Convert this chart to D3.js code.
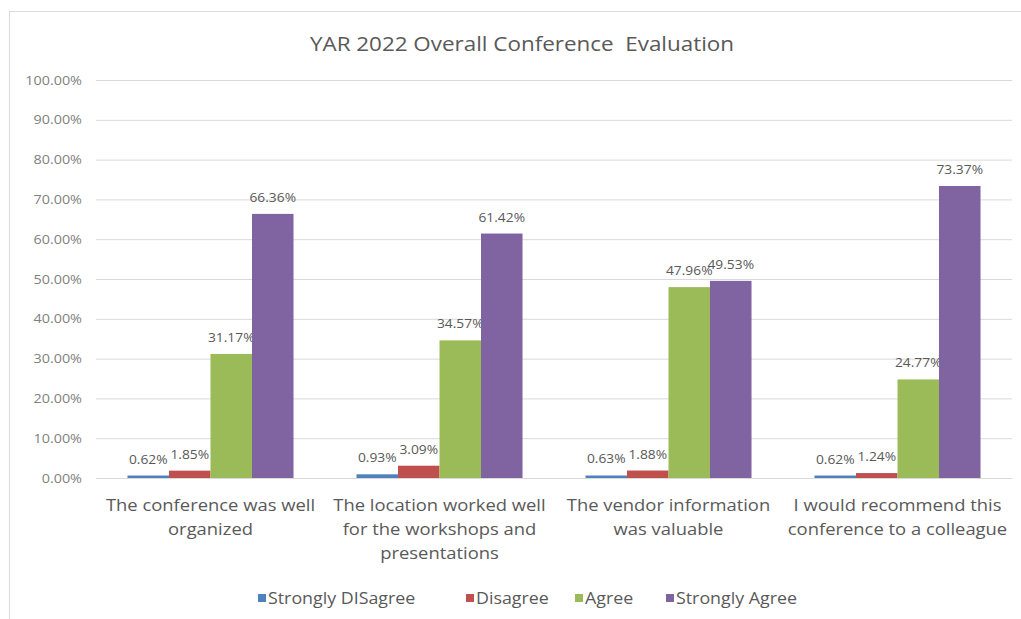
<!DOCTYPE html>
<html>
<head>
<meta charset="utf-8">
<title>YAR 2022 Overall Conference Evaluation</title>
<style>
  body { margin: 0; background: #fff; }
  text { font-family: "Open Sans", sans-serif; fill: #595959; }
</style>
</head>
<body>
<script src="https://cdnjs.cloudflare.com/ajax/libs/d3/7.8.5/d3.min.js"></script>
<script>
// categories (wrapped as in the original)
var categories = ["c1", "c2", "c3", "c4"];
var categoryLines = [
  ["The conference was well", "organized"],
  ["The location worked well", "for the workshops and", "presentations"],
  ["The vendor information", "was valuable"],
  ["I would recommend this", "conference to a colleague"]
];
var seriesNames = ["Strongly DISagree", "Disagree", "Agree", "Strongly Agree"];
var seriesColors = ["#4f81bd", "#c0504d", "#9bbb59", "#8064a2"];

var stronglyDisagree = [0.62, 0.93, 0.63, 0.62];
var disagree = [1.85, 3.09, 1.88, 1.24];
var agree = [31.17, 34.57, 47.96, 24.77];
var stronglyAgree = [66.36, 61.42, 49.53, 73.37];
var seriesValues = [stronglyDisagree, disagree, agree, stronglyAgree];

var yTicks = [0, 10, 20, 30, 40, 50, 60, 70, 80, 90, 100];

var W = 1021, H = 619;
var sx = 1.15; // the original's text is a little wider than Open Sans
var svg = d3.select("body").append("svg")
  .attr("width", W)
  .attr("height", H);

function at(x, y){ return "translate(" + x + "," + y + ") scale(" + sx + ",1)"; }

// chart border
svg.append("rect")
  .attr("x", 9.5).attr("y", 11.5)
  .attr("width", 1100).attr("height", 700)
  .attr("fill", "#fff")
  .attr("stroke", "#d9d9d9");

var plot = { left: 96, right: 1012, top: 80, bottom: 478 };

var x0 = d3.scaleBand().domain(categories)
  .range([plot.left, plot.right])
  .paddingInner(0.275).paddingOuter(0.1375);
var x1 = d3.scaleBand().domain(d3.range(seriesNames.length))
  .range([0, x0.bandwidth()]);
var y = d3.scaleLinear().domain([0, 100]).range([plot.bottom, plot.top]);

// gridlines + tick labels
var yAxis = d3.axisLeft(y).tickValues(yTicks)
  .tickSize(-(plot.right - plot.left))
  .tickPadding(14)
  .tickFormat(function(d){ return d.toFixed(2) + "%"; });
var ga = svg.append("g")
  .attr("transform", "translate(" + plot.left + ",0)")
  .call(yAxis);
ga.select(".domain").remove();
ga.selectAll(".tick line").attr("stroke", "#d9d9d9");
ga.selectAll(".tick text")
  .attr("x", -14 / sx)
  .attr("transform", "scale(" + sx + ",1)")
  .attr("font-size", 12.5)
  .attr("font-family", "'Open Sans', sans-serif")
  .style("fill", "#7f7f7f");

// bars
var groups = svg.selectAll("g.series").data(seriesValues).enter().append("g")
  .attr("class", "series")
  .attr("fill", function(d, i){ return seriesColors[i]; });

groups.each(function(vals, si){
  var g = d3.select(this);
  g.selectAll("rect").data(vals).enter().append("rect")
    .attr("x", function(d, ci){ return x0(categories[ci]) + x1(si); })
    .attr("y", function(d){ return y(d); })
    .attr("width", x1.bandwidth())
    .attr("height", function(d){ return y(0) - y(d); });
  g.selectAll("text").data(vals).enter().append("text")
    .attr("transform", function(d, ci){
      return at(x0(categories[ci]) + x1(si) + x1.bandwidth() / 2, y(d) - 12);
    })
    .attr("text-anchor", "middle")
    .attr("font-size", 12)
    .text(function(d){ return d.toFixed(2) + "%"; });
});

// category labels
var cl = svg.selectAll("text.cat").data(categoryLines).enter().append("text")
  .attr("class", "cat")
  .attr("text-anchor", "middle")
  .attr("font-size", 16)
  .attr("transform", function(d, i){
    return at(x0(categories[i]) + x0.bandwidth() / 2, 511);
  });
cl.selectAll("tspan").data(function(d){ return d; }).enter().append("tspan")
  .attr("x", 0)
  .attr("y", function(d, i){ return i * 24; })
  .text(function(d){ return d; });

// title
svg.append("text")
  .attr("transform", at(522, 51))
  .attr("text-anchor", "middle")
  .attr("font-size", 19.5)
  .style("white-space", "pre")
  .text("YAR 2022 Overall Conference  Evaluation");

// legend
var legendX = [258, 466, 575, 666];
var lg = svg.selectAll("g.legend").data(seriesNames).enter().append("g")
  .attr("class", "legend")
  .attr("transform", function(d, i){ return "translate(" + legendX[i] + ",598)"; });
lg.append("rect")
  .attr("x", 0).attr("y", -4)
  .attr("width", 8).attr("height", 8)
  .attr("fill", function(d, i){ return seriesColors[i]; });
lg.append("text")
  .attr("transform", at(10, 5.5))
  .attr("font-size", 15.5)
  .text(function(d){ return d; });
</script>
</body>
</html>
